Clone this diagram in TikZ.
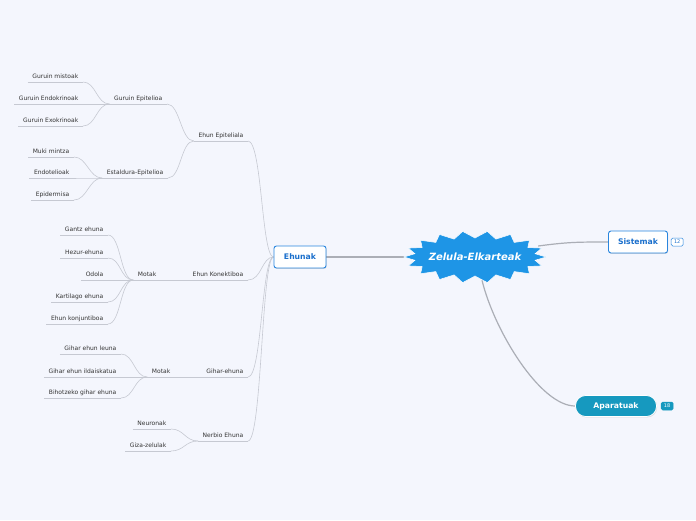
\documentclass[tikz,border=0pt]{standalone}
\usepackage{fontspec}
\setmainfont{DejaVu Sans}
\usetikzlibrary{positioning,calc,shadows}
\definecolor{bgcol}{HTML}{F4F6FD}
\definecolor{linkcol}{HTML}{C6C9D2}
\definecolor{maincol}{HTML}{ABAEB6}
\definecolor{starcol}{HTML}{1E95E6}
\definecolor{boxblue}{HTML}{2A86DE}
\definecolor{textblue}{HTML}{1A6FCC}
\definecolor{tealcol}{HTML}{1699BF}
\definecolor{leafcol}{HTML}{333333}
\pgfdeclarelayer{bg}
\pgfdeclarelayer{edges}
\pgfsetlayers{bg,edges,main}
\tikzset{
leaf/.style = {font=\fontsize{6}{7}\selectfont, text=leafcol, inner xsep=4.5pt, inner ysep=2pt, text height=4.4pt, text depth=1.3pt, anchor=south east},
topic/.style = {draw=boxblue, fill=white, rounded corners=2.5pt, line width=0.9pt, font=\fontsize{7.7}{9}\selectfont\bfseries, text=textblue, minimum height=22pt, inner xsep=2pt, drop shadow={opacity=0.25, shadow xshift=0.6pt, shadow yshift=-0.9pt}},
pill/.style = {fill=tealcol, draw=white, line width=0.8pt, rounded corners=10pt, font=\fontsize{7.7}{9}\selectfont\bfseries, text=white, minimum height=21pt, drop shadow={opacity=0.25, shadow xshift=0.6pt, shadow yshift=-0.9pt}},
badge/.style = {draw=boxblue, fill=white, rounded corners=1.5pt, line width=0.5pt, font=\fontsize{5}{5}\selectfont, text=textblue, inner sep=1pt, minimum width=12pt, minimum height=8pt},
link/.style = {draw=linkcol, line width=0.6pt},
mainlink/.style = {draw=maincol, line width=1.2pt},
starbox/.style = {fill=starcol, draw=white, line width=0.5pt}
}

\begin{document}
\begin{tikzpicture}[x=1pt, y=-1pt]
    \useasboundingbox (0,0) rectangle (696,520);
    \begin{pgfonlayer}{bg}
        \fill[bgcol] (0,0) rectangle (696,520);
    \end{pgfonlayer}

    % central star
    \begin{scope}[shift={(475,257)}]
        \filldraw[starbox] (0:71 and 26)
            \foreach \a in {0,20,...,340} { -- ({\a+10}:61 and 19) -- ({\a+20}:71 and 26) } -- cycle;
    \end{scope}
    \node [minimum width=142pt, minimum height=46pt, inner sep=0pt, font=\fontsize{10}{12}\selectfont\bfseries\itshape, text=white] (zelula) at (475,257) {Zelula-Elkarteak};

    \node [topic, minimum width=52pt] (ehunak) at (300,257) {Ehunak};
    \node [topic, minimum width=59pt] (sistemak) at (638,242) {Sistemak};
    \node [badge, right=3pt of sistemak] (sistnum) {12};
    \node [pill, minimum width=81pt] (aparatuak) at (616,406) {Aparatuak};
    \node [badge, fill=tealcol, draw=tealcol, text=white, right=4pt of aparatuak] (aparnum) {18};

    % Ehunak branches
    \node [leaf] (epiteliala) at (248,141) {Ehun Epiteliala};
    \node [leaf] (konektiboa) at (248,280) {Ehun Konektiboa};
    \node [leaf] (gihar) at (248,377) {Gihar-ehuna};
    \node [leaf] (nerbio) at (248,441) {Nerbio Ehuna};

    \node [leaf] (guruin) at (167,104) {Guruin Epitelioa};
    \node [leaf] (estaldura) at (168,178) {Estaldura-Epitelioa};
    \node [leaf] (motakk) at (161,280) {Motak};
    \node [leaf] (motakg) at (175,377) {Motak};
    \node [leaf] (neuronak) at (171,429) {Neuronak};
    \node [leaf] (gizazel) at (171,451) {Giza-zelulak};

    \node [leaf] (mistoak) at (83,82) {Guruin mistoak};
    \node [leaf] (endokrino) at (83,104) {Guruin Endokrinoak};
    \node [leaf] (exokrino) at (83,126) {Guruin Exokrinoak};
    \node [leaf] (muki) at (74,157) {Muki mintza};
    \node [leaf] (endotel) at (74,178) {Endotelioak};
    \node [leaf] (epiderm) at (74,200) {Epidermisa};
    \node [leaf] (gantz) at (108,235) {Gantz ehuna};
    \node [leaf] (hezur) at (108,258) {Hezur-ehuna};
    \node [leaf] (odola) at (108,280) {Odola};
    \node [leaf] (kartilago) at (108,302) {Kartilago ehuna};
    \node [leaf] (konjuntibo) at (108,324) {Ehun konjuntiboa};
    \node [leaf] (leuna) at (121,354) {Gihar ehun leuna};
    \node [leaf] (ildaiskatua) at (121,377) {Gihar ehun ildaiskatua};
    \node [leaf] (bihotz) at (121,398) {Bihotzeko gihar ehuna};

    \begin{pgfonlayer}{edges}
        \draw [mainlink] (zelula.west) -- (ehunak.east);
        \draw [mainlink] ($(zelula.east)+(-8,-11)$) .. controls +(30,-4) and +(-30,0) .. (sistemak.west);
        \draw [mainlink] ($(zelula.south)+(7,0)$) .. controls +(12,50) and +(-35,0) .. (aparatuak.west);

        \foreach \n in {epiteliala,konektiboa,gihar,nerbio,guruin,estaldura,motakk,motakg,neuronak,gizazel,
            mistoak,endokrino,exokrino,muki,endotel,epiderm,gantz,hezur,odola,kartilago,konjuntibo,leuna,ildaiskatua,bihotz}
            \draw [link] (\n.south west) -- (\n.south east);

        \foreach \c in {epiteliala,konektiboa,gihar,nerbio}
            \draw [link] (\c.south east) .. controls +(14,0) and +(-12,0) .. (ehunak.west);

        \foreach \c/\p in {guruin/epiteliala, estaldura/epiteliala, motakk/konektiboa, motakg/gihar,
            neuronak/nerbio, gizazel/nerbio, mistoak/guruin, endokrino/guruin, exokrino/guruin,
            muki/estaldura, endotel/estaldura, epiderm/estaldura, gantz/motakk, hezur/motakk, odola/motakk,
            kartilago/motakk, konjuntibo/motakk, leuna/motakg, ildaiskatua/motakg, bihotz/motakg}
            \draw [link] (\c.south east) .. controls +(13,0) and +(-13,0) .. (\p.south west);
    \end{pgfonlayer}
\end{tikzpicture}
\end{document}
